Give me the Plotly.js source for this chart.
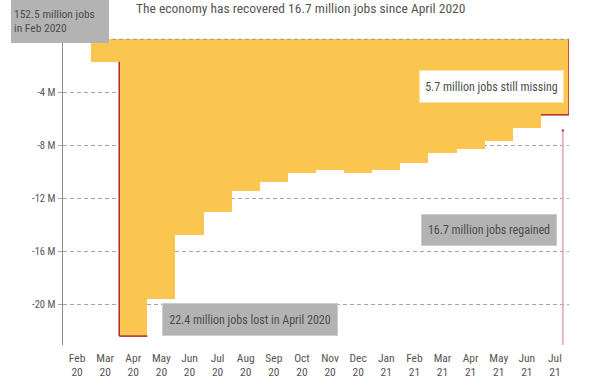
<!DOCTYPE html>
<html>
<head>
<meta charset="utf-8">
<script src="https://cdn.plot.ly/plotly-3.0.1.min.js"></script>
<style>html,body{margin:0;padding:0;background:#fff;}#chart{width:600px;height:381px;}</style>
</head>
<body>
<div id="chart"></div>
<script>
// Data: cumulative change in payroll jobs since Feb 2020 (millions)
const months = ['Feb','Mar','Apr','May','Jun','Jul','Aug','Sep','Oct','Nov','Dec','Jan','Feb','Mar','Apr','May','Jun','Jul'];
const years  = ['20','20','20','20','20','20','20','20','20','20','20','21','21','21','21','21','21','21'];
const jobsChange = [0, -1.7, -22.4, -19.6, -14.75, -13.05, -11.47, -10.74, -10.06, -9.83, -10.11, -9.89, -9.33, -8.55, -8.25, -7.65, -6.72, -5.7];
const yTicks = [-20, -16, -12, -8, -4, 0];
const yTickText = ['-20 M', '-16 M', '-12 M', '-8 M', '-4 M', ''];
const titleText = 'The economy has recovered 16.7 million jobs since April 2020';
const noteFeb = '152.5 million jobs<br>in Feb 2020';
const noteMissing = '5.7 million jobs still missing';
const noteRegained = '16.7 million jobs regained';
const noteLost = '22.4 million jobs lost in April 2020';

const FONT = '"Roboto Condensed", "Liberation Sans Narrow", Roboto, sans-serif';
const TXT = '#555555';
const BOXTXT = '#4d4d4d';
const RED = '#b0282c';

const L = 63, R = 31, T = 38, B = 36, W = 600, H = 381;
const pw = W - L - R, ph = H - T - B;
const px = x => (x - L) / pw;
const py = y => (H - B - y) / ph;

const idx = months.map((m, i) => i);
const ticktext = months.map((m, i) => m + '<br>' + years[i]);

const iApr = 2, iLast = months.length - 1;

const trace = {
  type: 'bar',
  x: idx,
  y: jobsChange,
  marker: {color: '#fbc64f', line: {width: 0}},
  hoverinfo: 'skip'
};

const shapes = [
  {type:'line', xref:'paper', yref:'y', x0:0, x1:1, y0:0, y1:0, line:{color:'#999', width:1, dash:'4px,3px'}, layer:'above'},
  {type:'line', xref:'x', yref:'y', x0:iApr-0.5, x1:iApr-0.5, y0:jobsChange[iApr-1], y1:jobsChange[iApr], line:{color:RED, width:1.5}, layer:'above'},
  {type:'line', xref:'x', yref:'y', x0:iApr-0.5, x1:iApr+0.5, y0:jobsChange[iApr], y1:jobsChange[iApr], line:{color:RED, width:1.5}, layer:'above'},
  {type:'line', xref:'x', yref:'y', x0:iLast+0.5, x1:iLast+0.5, y0:0, y1:jobsChange[iLast], line:{color:RED, width:1.5}, layer:'above'},
  {type:'line', xref:'x', yref:'y', x0:iLast-0.5, x1:iLast+0.5, y0:jobsChange[iLast], y1:jobsChange[iLast], line:{color:RED, width:1.5}, layer:'above'},
  {type:'line', xref:'x', yref:'paper', x0:iLast+0.28, x1:iLast+0.28, y0:0, y1:py(129.5), line:{color:'rgba(222,170,178,0.85)', width:2}, layer:'above'},
  {type:'line', xref:'x', yref:'paper', x0:iLast+0.28, x1:iLast+0.28, y0:py(131.5), y1:py(129.5), line:{color:RED, width:2}, layer:'above'}
];

const annBase = {showarrow:false, xref:'paper', yref:'paper', font:{family:FONT, size:12, color:BOXTXT}, xanchor:'center', yanchor:'middle'};

const annotations = [
  Object.assign({}, annBase, {text:titleText, x:px(300), y:py(8), font:{family:FONT, size:13.5, color:TXT}}),
  Object.assign({}, annBase, {text:noteFeb, x:px(60), y:py(21), align:'left', width:92, height:38, bgcolor:'#b3b3b3', borderpad:3, borderwidth:0, font:{family:FONT, size:11.5, color:BOXTXT}}),
  Object.assign({}, annBase, {text:noteMissing, x:px(491.5), y:py(86.7), width:143, height:31, bgcolor:'#ffffff', bordercolor:'#fbe3a3', borderwidth:1, borderpad:0}),
  Object.assign({}, annBase, {text:noteRegained, x:px(489), y:py(230), width:134, height:30, bgcolor:'#b3b3b3', bordercolor:'#cccccc', borderwidth:1, borderpad:0}),
  Object.assign({}, annBase, {text:noteLost, x:px(250.3), y:py(319.2), width:174, height:31, bgcolor:'#b3b3b3', bordercolor:'#cccccc', borderwidth:1, borderpad:0})
];

const layout = {
  width: W, height: H,
  margin: {l:L, r:R, t:T, b:B, pad:0},
  paper_bgcolor:'#fff', plot_bgcolor:'#fff',
  showlegend:false,
  bargap:0,
  font:{family:FONT, color:TXT},
  xaxis:{
    range:[-0.5, months.length - 0.5],
    tickvals: idx, ticktext: ticktext,
    showgrid:false, zeroline:false, showline:false, ticks:'',
    tickfont:{family:FONT, size:11.5, color:TXT},
    ticklabelstandoff: 4,
    fixedrange:true
  },
  yaxis:{
    range:[-23.07, 0.1],
    tickvals: yTicks, ticktext: yTickText,
    showgrid:true, gridcolor:'#a6a6a6', griddash:'4px,3px', gridwidth:1,
    zeroline:false,
    showline:true, linecolor:'#8c8c8c', linewidth:1.5,
    ticks:'outside', ticklen:4, tickcolor:'#a6a6a6',
    tickfont:{family:FONT, size:10.5, color:TXT},
    fixedrange:true
  },
  shapes: shapes,
  annotations: annotations
};

Plotly.newPlot('chart', [trace], layout, {displayModeBar:false, staticPlot:true});
</script>
</body>
</html>
